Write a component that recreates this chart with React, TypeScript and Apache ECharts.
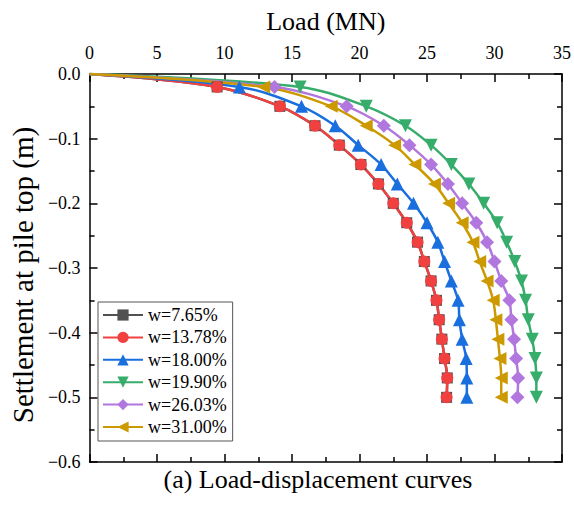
import React, { useEffect, useRef } from "react";
import * as echarts from "echarts";

const settlement = [0, -0.02, -0.05, -0.08, -0.11, -0.14, -0.17, -0.2, -0.23, -0.26, -0.29, -0.32, -0.35, -0.38, -0.41, -0.44, -0.47, -0.5];

const load765 = [0, 9.45, 14.1, 16.7, 18.5, 20.1, 21.4, 22.5, 23.5, 24.3, 24.8, 25.3, 25.7, 25.9, 26.1, 26.3, 26.5, 26.45];
const load1378 = [0, 9.45, 14.1, 16.7, 18.5, 20.1, 21.4, 22.5, 23.5, 24.3, 24.8, 25.3, 25.7, 25.9, 26.1, 26.3, 26.5, 26.45];
const load1800 = [0, 11.1, 15.7, 18.2, 19.9, 21.6, 22.8, 24.0, 25.0, 25.8, 26.3, 26.8, 27.3, 27.4, 27.6, 27.9, 27.95, 27.95];
const load1990 = [0, 15.6, 20.5, 23.4, 25.3, 26.8, 28.1, 29.2, 30.2, 30.9, 31.5, 32.0, 32.3, 32.5, 32.8, 33.0, 33.1, 33.1];
const load2603 = [0, 13.7, 19.05, 21.8, 23.7, 25.3, 26.55, 27.6, 28.65, 29.45, 30.0, 30.5, 31.1, 31.25, 31.45, 31.6, 31.75, 31.7];
const load3100 = [0, 12.9, 17.9, 20.5, 22.6, 24.1, 25.55, 26.6, 27.6, 28.4, 28.9, 29.45, 29.9, 30.1, 30.25, 30.4, 30.5, 30.5];

const seriesNames = ["w=7.65%", "w=13.78%", "w=18.00%", "w=19.90%", "w=26.03%", "w=31.00%"];
const seriesLoads = [load765, load1378, load1800, load1990, load2603, load3100];
const seriesColors = ["#515151", "#F14040", "#1A6FDF", "#37AD6B", "#B177DE", "#CC9900"];
const seriesSymbols = ["rect", "circle", "triangle", "triangle", "diamond", "triangle"];
const seriesRotate = [0, 0, 0, 180, 0, 90];
const seriesSymbolSize = [11, 12, 13, 13, 14, 13];

const xMin = 0;
const xMax = 35;
const xStep = 5;
const yMin = -0.6;
const yMax = 0;
const yStep = 0.1;

const FONT = "'Liberation Serif', 'Times New Roman', serif";

export default function App() {
  const ref = useRef<HTMLDivElement>(null);
  useEffect(() => {
    if (!ref.current) return;
    const chart = echarts.init(ref.current, null, { renderer: "svg" });
    const axisLineStyle = { color: "#000", width: 1.5 };
    const yFmt = (v: number) => (Math.abs(v) < 1e-9 ? "0.0" : "\u2212" + Math.abs(v).toFixed(1));
    const series = seriesNames.map((name, i) => ({
      name,
      type: "line",
      xAxisIndex: 0,
      yAxisIndex: 0,
      smooth: 0.35,
      symbol: seriesSymbols[i],
      symbolRotate: seriesRotate[i],
      symbolSize: seriesSymbolSize[i],
      showAllSymbol: true,
      lineStyle: { color: seriesColors[i], width: 2.5 },
      itemStyle: { color: seriesColors[i] },
      data: seriesLoads[i].map((x, j) =>
        j === 0 ? { value: [x, settlement[j]], symbol: "none" } : [x, settlement[j]]
      ),
    }));
    chart.setOption({
      animation: false,
      textStyle: { fontFamily: FONT },
      grid: { left: 78, right: 10, top: 74, bottom: 46, containLabel: false },
      legend: {
        orient: "vertical",
        left: 98,
        top: 302,
        padding: [4, 6, 5, 4],
        itemWidth: 40,
        itemHeight: 14,
        itemGap: 4.4,
        borderColor: "#555",
        borderWidth: 1,
        backgroundColor: "#fff",
        borderRadius: 0,
        textStyle: { fontFamily: FONT, fontSize: 18, color: "#000", lineHeight: 18 },
        data: seriesNames,
      },
      xAxis: [
        {
          type: "value",
          position: "top",
          min: xMin,
          max: xMax,
          interval: xStep,
          name: "Load (MN)",
          nameLocation: "middle",
          nameGap: 40,
          nameTextStyle: { fontFamily: FONT, fontSize: 26, color: "#000" },
          axisLine: { show: true, onZero: false, lineStyle: axisLineStyle },
          axisTick: { show: true, inside: true, length: 8, lineStyle: axisLineStyle },
          minorTick: { show: true, splitNumber: 2, length: 5, lineStyle: { color: "#000", width: 1.5 } },
          axisLabel: { fontFamily: FONT, fontSize: 18, color: "#000", margin: 12 },
          splitLine: { show: false },
        },
        {
          type: "value",
          position: "bottom",
          min: xMin,
          max: xMax,
          interval: xStep,
          axisLine: { show: true, onZero: false, lineStyle: axisLineStyle },
          axisTick: { show: true, inside: true, length: 8, lineStyle: axisLineStyle },
          minorTick: { show: true, splitNumber: 2, length: 5, lineStyle: { color: "#000", width: 1.5 } },
          axisLabel: { show: false },
          splitLine: { show: false },
        },
      ],
      yAxis: [
        {
          type: "value",
          position: "left",
          min: yMin,
          max: yMax,
          interval: yStep,
          name: "Settlement at pile top (m)",
          nameLocation: "middle",
          nameGap: 42,
          nameTextStyle: { fontFamily: FONT, fontSize: 29, color: "#000", padding: [0, 14, 0, 0] },
          axisLine: { show: true, onZero: false, lineStyle: axisLineStyle },
          axisTick: { show: true, inside: true, length: 8, lineStyle: axisLineStyle },
          minorTick: { show: true, splitNumber: 2, length: 5, lineStyle: { color: "#000", width: 1.5 } },
          axisLabel: { fontFamily: FONT, fontSize: 18, color: "#000", margin: 9, formatter: yFmt },
          splitLine: { show: false },
        },
        {
          type: "value",
          position: "right",
          min: yMin,
          max: yMax,
          interval: yStep,
          axisLine: { show: true, onZero: false, lineStyle: axisLineStyle },
          axisTick: { show: true, inside: true, length: 8, lineStyle: axisLineStyle },
          minorTick: { show: true, splitNumber: 2, length: 5, lineStyle: { color: "#000", width: 1.5 } },
          axisLabel: { show: false },
          splitLine: { show: false },
        },
      ],
      graphic: [
        {
          type: "text",
          x: 318,
          y: 479,
          style: {
            text: "(a) Load-displacement curves",
            fontFamily: FONT,
            fontSize: 26,
            fill: "#000",
            textAlign: "center",
            textVerticalAlign: "middle",
          },
        },
      ],
      series,
    });
    return () => chart.dispose();
  }, []);
  return <div ref={ref} style={{ width: 574, height: 508, position: "absolute", left: 0, top: 0 }} />;
}
